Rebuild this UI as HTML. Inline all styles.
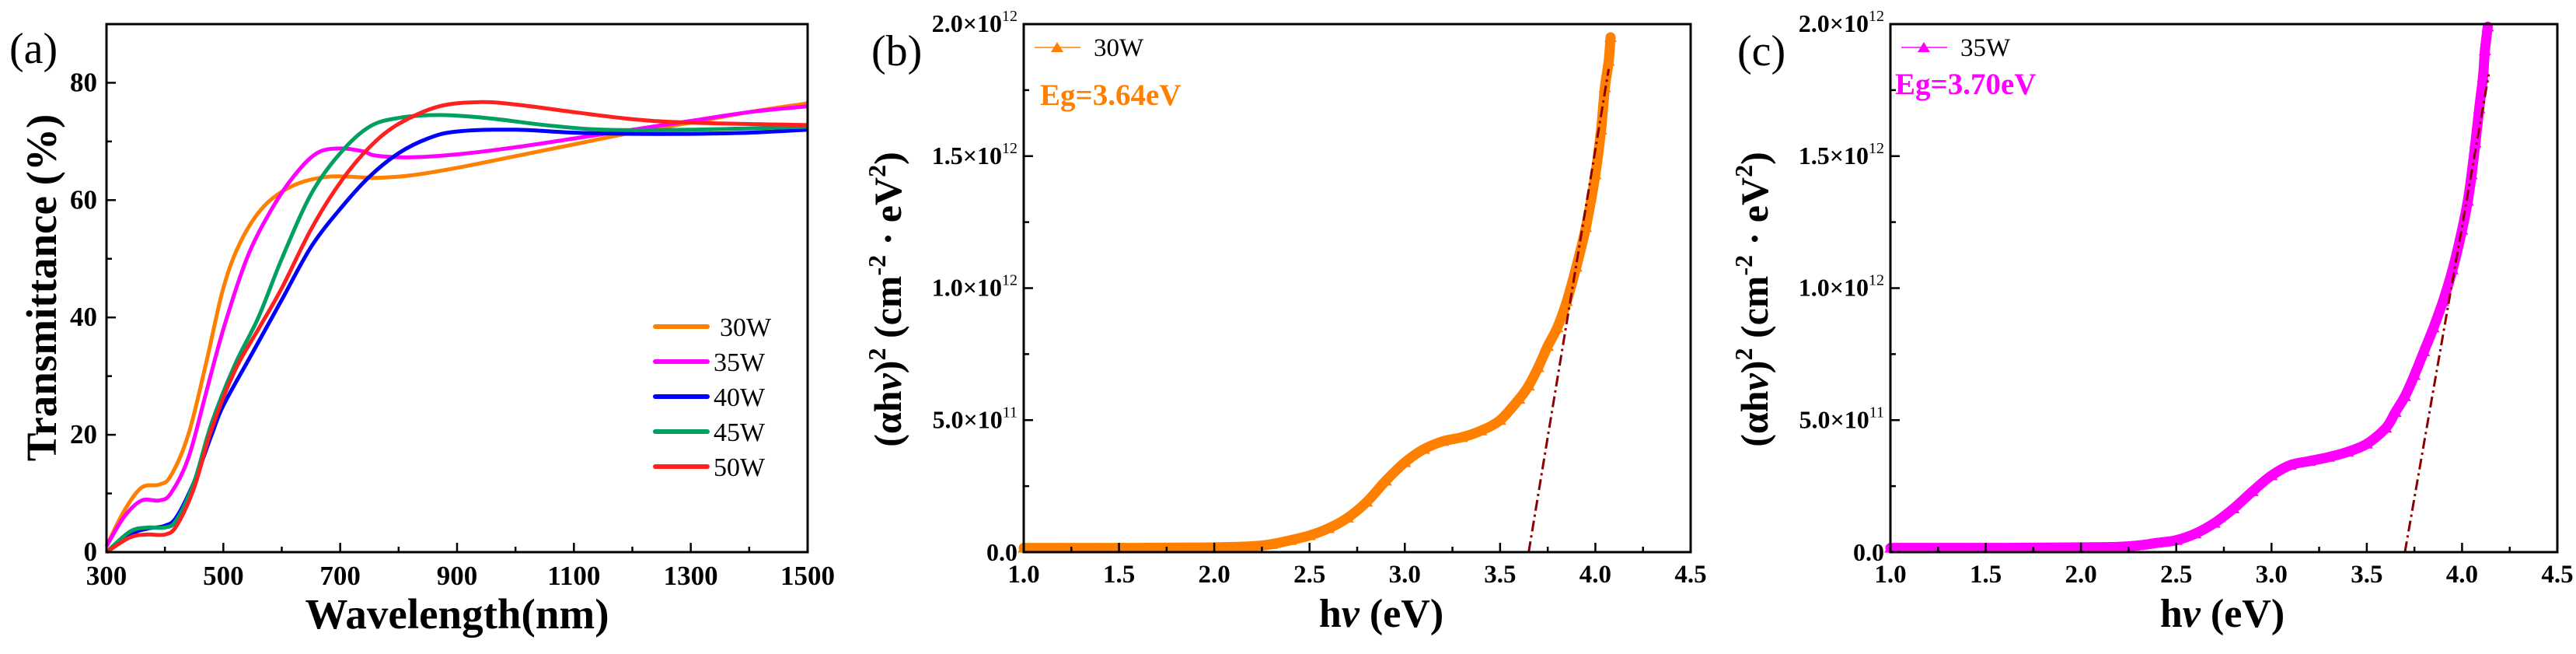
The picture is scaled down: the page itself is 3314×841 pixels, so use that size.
<!DOCTYPE html>
<html><head><meta charset="utf-8"><style>
html,body{margin:0;padding:0;background:#fff;}
svg{display:block;font-family:"Liberation Serif",serif;}
</style></head><body>
<svg id="fig" width="3314" height="841" viewBox="0 0 3314 841" xmlns="http://www.w3.org/2000/svg">
<g id="pa"></g>
<g id="pb"></g>
<g id="pc"></g>
</svg>
<script>
// ---- Panel (a) data ----
const wl30 = [300,330,360,390,410,440,470,500,530,570,620,680,760,820,900,1000,1100,1200,1300,1400,1500];
const t30  = [1,7,11,11.5,13,20,32,45,53,59,62.5,64,63.8,64.2,65.5,67.5,69.5,71.5,73.2,75,76.5];
const wl35 = [300,330,360,390,410,440,470,500,540,580,620,660,700,740,760,820,900,1000,1100,1200,1300,1400,1500];
const t35  = [1,6,8.8,8.8,10,16,27,38,50,58,64,68,68.8,68.3,67.6,67.3,67.8,69,70.5,72,73.5,75,76];
const wl40 = [300,340,370,400,420,450,480,500,550,600,650,700,750,800,850,900,1000,1100,1200,1300,1400,1500];
const t40  = [0,3,4,4.5,6,12,20,25,34,43,52,58.5,64,68,70.5,71.7,72,71.5,71.3,71.3,71.5,72];
const wl45 = [300,340,370,400,420,450,480,520,560,600,650,700,750,800,870,950,1050,1150,1300,1500];
const t45  = [0,3.5,4.2,4.2,5.5,12,22,32,40,50,61,68,72.5,74,74.5,74,72.8,72,72,72.5];
const wl50 = [300,340,370,400,420,450,480,520,560,600,650,700,750,800,870,940,1000,1100,1200,1300,1500];
const t50  = [0,2.5,3,3,4.5,11,21,31,38,45,55,63,69,73,76,76.7,76.3,75,73.8,73.2,72.8];
const seriesNames = ["30W","35W","40W","45W","50W"];
const seriesColors = ["#FF8000","#FF00FF","#0000FF","#00A060","#FF2020"];
const xTicksA = [300,500,700,900,1100,1300,1500];
const yTicksA = [0,20,40,60,80];
// ---- Panel (b) data ----
const evB = [1.0,1.2,1.4,1.6,1.8,2.0,2.2,2.3,2.4,2.5,2.6,2.7,2.8,2.9,3.0,3.1,3.2,3.3,3.4,3.5,3.6,3.65,3.7,3.75,3.8,3.85,3.9,3.95,4.0,4.03,4.05,4.07,4.08];
const abB = [0.016,0.016,0.016,0.016,0.017,0.018,0.022,0.03,0.045,0.063,0.09,0.13,0.19,0.27,0.34,0.39,0.42,0.435,0.46,0.5,0.58,0.63,0.70,0.78,0.85,0.95,1.08,1.23,1.43,1.6,1.76,1.86,1.95];
const fitB = [[3.65,0],[4.07,1.83]];
// ---- Panel (c) data ----
const evC = [1.0,1.2,1.4,1.6,1.8,2.0,2.2,2.3,2.4,2.5,2.6,2.7,2.8,2.9,3.0,3.1,3.2,3.3,3.4,3.5,3.6,3.65,3.7,3.75,3.8,3.85,3.9,3.95,4.0,4.03,4.05,4.07,4.09,4.11,4.12,4.135];
const abC = [0.016,0.016,0.016,0.016,0.017,0.018,0.02,0.025,0.035,0.045,0.07,0.11,0.165,0.23,0.29,0.33,0.345,0.36,0.38,0.41,0.47,0.53,0.59,0.67,0.76,0.85,0.95,1.07,1.22,1.33,1.43,1.55,1.68,1.8,1.9,1.99];
const fitC = [[3.70,0],[4.14,1.81]];
const xTicksBC = [1.0,1.5,2.0,2.5,3.0,3.5,4.0,4.5];
const yTicksBC = [0,0.5,1.0,1.5,2.0];

const NS="http://www.w3.org/2000/svg";
function mk(parent,tag,attrs){const e=document.createElementNS(NS,tag);for(const k in attrs)e.setAttribute(k,attrs[k]);parent.appendChild(e);return e;}
function smooth(pts){
  let d="M"+pts[0][0].toFixed(1)+","+pts[0][1].toFixed(1);
  for(let i=0;i<pts.length-1;i++){
    const p0=pts[Math.max(0,i-1)],p1=pts[i],p2=pts[i+1],p3=pts[Math.min(pts.length-1,i+2)];
    const c1=[p1[0]+(p2[0]-p0[0])/6,p1[1]+(p2[1]-p0[1])/6],c2=[p2[0]-(p3[0]-p1[0])/6,p2[1]-(p3[1]-p1[1])/6];
    d+=" C"+c1[0].toFixed(1)+","+c1[1].toFixed(1)+" "+c2[0].toFixed(1)+","+c2[1].toFixed(1)+" "+p2[0].toFixed(1)+","+p2[1].toFixed(1);
  }
  return d;
}

// ===== Panel A =====
(function(){
  const g=document.getElementById('pa');
  const L=137,R=1039,T=31,B=710;
  const sx=v=>L+(v-300)/1200*(R-L), sy=v=>B-v/90*(B-T);
  const xs=[wl30,wl35,wl40,wl45,wl50], ys=[t30,t35,t40,t45,t50];
  [0,1,2,3,4].forEach(i=>{
    const p=mk(g,'path',{d:smooth(xs[i].map((x,j)=>[sx(x),sy(ys[i][j])])),fill:'none',stroke:seriesColors[i],'stroke-width':5,'stroke-linejoin':'round'});
    
    
  });
  const f=mk(g,'rect',{x:L,y:T,width:R-L,height:B-T,fill:'none',stroke:'#000','stroke-width':3});
  
  for(let v=300;v<=1500;v+=100){const x=sx(v);const len=(v%200===100)?12:7;mk(g,'line',{x1:x,y1:B,x2:x,y2:B-len,stroke:'#000','stroke-width':2.5});}
  for(let v=0;v<=90;v+=10){const y=sy(v);const len=(v%20===0)?12:7;mk(g,'line',{x1:L,y1:y,x2:L+len,y2:y,stroke:'#000','stroke-width':2.5});}
  xTicksA.forEach(v=>{const t=mk(g,'text',{x:sx(v),y:752,'text-anchor':'middle','font-size':35,'font-weight':'bold'});t.textContent=v;
    });
  yTicksA.forEach(v=>{const t=mk(g,'text',{x:L-12,y:sy(v)+11,'text-anchor':'end','font-size':35,'font-weight':'bold'});t.textContent=v;
    });
  const xt=mk(g,'text',{x:(L+R)/2,y:808,'text-anchor':'middle','font-size':55,'font-weight':'bold'});xt.textContent='Wavelength(nm)';
  
  const yt=mk(g,'text',{x:0,y:0,'text-anchor':'middle','font-size':55,'font-weight':'bold',transform:'translate(72,370) rotate(-90)'});yt.textContent='Transmittance (%)';
  
  const pl=mk(g,'text',{x:12,y:81,'font-size':56});pl.textContent='(a)';
  
  seriesNames.forEach((n,i)=>{
    const y=420+i*45;
    const le=mk(g,'g',{});
    
    mk(le,'line',{x1:843,y1:y,x2:910,y2:y,stroke:seriesColors[i],'stroke-width':6,'stroke-linecap':'round'});
    const t=mk(le,'text',{x:i===0?926:918,y:y+12,'font-size':34});t.textContent=n;
  });
})();

// ===== Panels B & C =====
function tauc(id,L,ev,ab,fit,color,name,eg,egX,egY,label,labelX,xtCenter){
  const g=document.getElementById(id);
  const R=L+858,T=31,B=710;
  const sx=v=>L+(v-1)/3.5*(R-L), sy=v=>B-v/2*(B-T);
  const pts=ev.map((x,j)=>[sx(x),sy(ab[j])]);
  const band=mk(g,'path',{d:smooth(pts),fill:'none',stroke:color,'stroke-width':13,'stroke-linejoin':'round','stroke-linecap':'round'});
  
  pts.forEach(p=>{
    const m=mk(g,'path',{d:`M${p[0]-8},${p[1]+6} L${p[0]+8},${p[1]+6} L${p[0]},${p[1]-7} Z`,fill:color});
    
  });
  const fl=mk(g,'line',{x1:sx(fit[0][0]),y1:sy(fit[0][1]),x2:sx(fit[1][0]),y2:sy(fit[1][1]),stroke:'#8B0000','stroke-width':3,'stroke-dasharray':'14 5 3 5'});
  
  const f=mk(g,'rect',{x:L,y:T,width:R-L,height:B-T,fill:'none',stroke:'#000','stroke-width':3});
  
  for(let v=1;v<=4.5001;v+=0.25){const x=sx(v);const major=Math.abs(v*2-Math.round(v*2))<1e-6;mk(g,'line',{x1:x,y1:B,x2:x,y2:B-(major?12:7),stroke:'#000','stroke-width':2.5});}
  for(let v=0;v<=2.0001;v+=0.25){const y=sy(v);const major=Math.abs(v*2-Math.round(v*2))<1e-6;mk(g,'line',{x1:L,y1:y,x2:L+(major?12:7),y2:y,stroke:'#000','stroke-width':2.5});}
  xTicksBC.forEach(v=>{const t=mk(g,'text',{x:sx(v),y:749,'text-anchor':'middle','font-size':33,'font-weight':'bold'});t.textContent=v.toFixed(1);
    });
  yTicksBC.forEach(v=>{
    const t=mk(g,'text',{x:L-8,y:sy(v)+(v===0?11:10),'text-anchor':'end','font-size':32,'font-weight':'bold'});
    
    if(v===0){t.textContent='0.0';}
    else{
      const mant=v>=1?v.toFixed(1):(v*10).toFixed(1), ex=v>=1?'12':'11';
      const a=mk(t,'tspan',{});a.textContent=mant+'×10';
      const s=mk(t,'tspan',{dy:-14,'font-size':20,'font-weight':'normal'});s.textContent=ex;
    }
  });
  const xt=mk(g,'text',{x:xtCenter,y:806,'text-anchor':'middle','font-size':52,'font-weight':'bold'});
  
  mk(xt,'tspan',{}).textContent='h';mk(xt,'tspan',{'font-style':'italic'}).textContent='ν';mk(xt,'tspan',{}).textContent=' (eV)';
  const yt=mk(g,'text',{x:0,y:0,'text-anchor':'middle','font-size':50,'font-weight':'bold',transform:`translate(${L-158},385) rotate(-90)`});
  
  mk(yt,'tspan',{}).textContent='(αh';mk(yt,'tspan',{'font-style':'italic'}).textContent='ν';mk(yt,'tspan',{}).textContent=')';
  mk(yt,'tspan',{dy:-20,'font-size':32}).textContent='2';mk(yt,'tspan',{dy:20}).textContent=' (cm';
  mk(yt,'tspan',{dy:-20,'font-size':32}).textContent='-2';mk(yt,'tspan',{dy:20}).textContent=' · eV';
  mk(yt,'tspan',{dy:-20,'font-size':32}).textContent='2';mk(yt,'tspan',{dy:20}).textContent=')';
  const pl=mk(g,'text',{x:labelX,y:84,'font-size':56});pl.textContent=label;
  
  const le=mk(g,'g',{});
  mk(le,'line',{x1:L+14,y1:61,x2:L+73,y2:61,stroke:color,'stroke-width':1.5});
  mk(le,'path',{d:`M${L+35},${67} L${L+51},${67} L${L+43},${54} Z`,fill:color});
  const lt=mk(le,'text',{x:L+90,y:72,'font-size':33});lt.textContent=name;
  const et=mk(g,'text',{x:egX,y:egY,'font-size':39,'font-weight':'bold',fill:color});et.textContent=eg;
  
}
tauc('pb',1317,evB,abB,fitB,'#FF8000','30W','Eg=3.64eV',1338,135,'(b)',1121,1777);
tauc('pc',2432,evC,abC,fitC,'#FF00FF','35W','Eg=3.70eV',2438,121,'(c)',2235,2859);
</script>
</body></html>
